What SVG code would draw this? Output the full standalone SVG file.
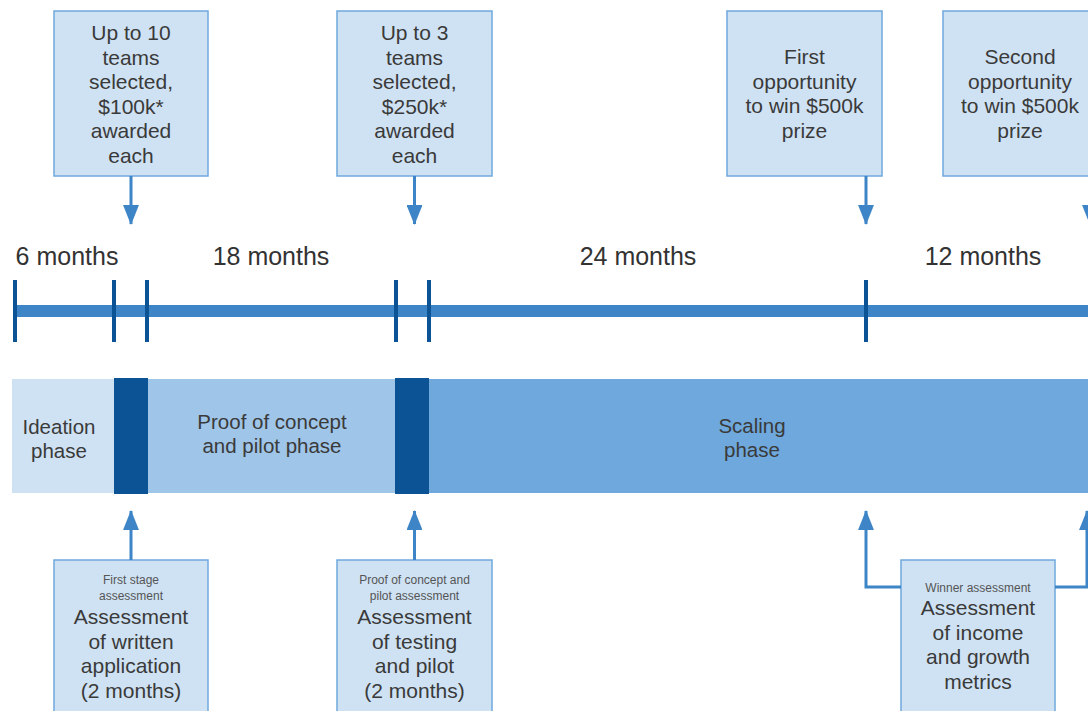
<svg xmlns="http://www.w3.org/2000/svg" width="1088" height="711" viewBox="0 0 1088 711">
<style>
.box{fill:#cfe2f3;stroke:#6fa8dc;stroke-width:1.5}
.t{font-family:"Liberation Sans",Arial,sans-serif;font-size:21px;fill:#3a3a3a;text-anchor:middle}
.m{font-family:"Liberation Sans",Arial,sans-serif;font-size:25px;fill:#333;text-anchor:middle}
.p{font-family:"Liberation Sans",Arial,sans-serif;font-size:20.5px;fill:#3a3a3a;text-anchor:middle}
.s{font-family:"Liberation Sans",Arial,sans-serif;font-size:12px;fill:#555;text-anchor:middle}
.ln{fill:none;stroke:#3d85c6;stroke-width:3}
.tick{fill:#0b5394}
</style>
<defs>
<marker id="ah" viewBox="0 0 20 16" refX="19" refY="8" markerWidth="6.7" markerHeight="5.3" orient="auto" markerUnits="strokeWidth">
<path d="M0,0 L20,8 L0,16 z" fill="#3d85c6"/>
</marker>
</defs>
<rect width="1088" height="711" fill="#ffffff"/>

<g id="timeline">
<rect x="13" y="305" width="1075" height="12" fill="#3d85c6"/>
<rect class="tick" x="13" y="280" width="4" height="62"/>
<rect class="tick" x="112" y="280" width="4" height="62"/>
<rect class="tick" x="145" y="280" width="4" height="62"/>
<rect class="tick" x="394" y="280" width="4" height="62"/>
<rect class="tick" x="427" y="280" width="4" height="62"/>
<rect class="tick" x="864" y="280" width="4" height="62"/>
</g>

<g id="durations">
<text class="m" x="67" y="265">6 months</text>
<text class="m" x="271" y="265">18 months</text>
<text class="m" x="638" y="265">24 months</text>
<text class="m" x="983" y="265">12 months</text>
</g>

<g id="phase-ideation">
<rect x="12" y="379" width="102" height="114" fill="#cfe2f3"/>
<text class="p" x="59" y="434">Ideation</text>
<text class="p" x="59" y="458">phase</text>
</g>
<g id="gate-1"><rect x="114" y="378" width="34" height="116" fill="#0b5394"/></g>
<g id="phase-proof">
<rect x="148" y="379" width="247" height="114" fill="#9fc5e8"/>
<text class="p" x="272" y="429">Proof of concept</text>
<text class="p" x="272" y="453">and pilot phase</text>
</g>
<g id="gate-2"><rect x="395" y="378" width="34" height="116" fill="#0b5394"/></g>
<g id="phase-scaling">
<rect x="429" y="379" width="659" height="114" fill="#6fa8dc"/>
<text class="p" x="752" y="433">Scaling</text>
<text class="p" x="752" y="457">phase</text>
</g>

<g id="box-teams-10">
<rect class="box" x="54" y="11" width="154" height="165"/>
<text class="t" x="131" y="40">Up to 10</text>
<text class="t" x="131" y="64.5">teams</text>
<text class="t" x="131" y="89">selected,</text>
<text class="t" x="131" y="113.5">$100k*</text>
<text class="t" x="131" y="138">awarded</text>
<text class="t" x="131" y="162.5">each</text>
</g>
<g id="box-teams-3">
<rect class="box" x="337" y="11" width="155" height="165"/>
<text class="t" x="414.5" y="40">Up to 3</text>
<text class="t" x="414.5" y="64.5">teams</text>
<text class="t" x="414.5" y="89">selected,</text>
<text class="t" x="414.5" y="113.5">$250k*</text>
<text class="t" x="414.5" y="138">awarded</text>
<text class="t" x="414.5" y="162.5">each</text>
</g>
<g id="box-first-opportunity">
<rect class="box" x="727" y="11" width="155" height="165"/>
<text class="t" x="804.5" y="64">First</text>
<text class="t" x="804.5" y="88.5">opportunity</text>
<text class="t" x="804.5" y="113">to win $500k</text>
<text class="t" x="804.5" y="137.5">prize</text>
</g>
<g id="box-second-opportunity">
<rect class="box" x="943" y="11" width="155" height="165"/>
<text class="t" x="1020" y="64">Second</text>
<text class="t" x="1020" y="88.5">opportunity</text>
<text class="t" x="1020" y="113">to win $500k</text>
<text class="t" x="1020" y="137.5">prize</text>
</g>

<g id="box-first-stage">
<rect class="box" x="54" y="560" width="154" height="160"/>
<text class="s" x="131" y="584">First stage</text>
<text class="s" x="131" y="600">assessment</text>
<text class="t" x="131" y="624">Assessment</text>
<text class="t" x="131" y="648.5">of written</text>
<text class="t" x="131" y="673">application</text>
<text class="t" x="131" y="697.5">(2 months)</text>
</g>
<g id="box-poc-assessment">
<rect class="box" x="337" y="560" width="155" height="160"/>
<text class="s" x="414.5" y="584">Proof of concept and</text>
<text class="s" x="414.5" y="600">pilot  assessment</text>
<text class="t" x="414.5" y="624">Assessment</text>
<text class="t" x="414.5" y="648.5">of testing</text>
<text class="t" x="414.5" y="673">and pilot</text>
<text class="t" x="414.5" y="697.5">(2 months)</text>
</g>
<g id="box-winner">
<rect class="box" x="901" y="560" width="154" height="160"/>
<text class="s" x="978" y="592">Winner assessment</text>
<text class="t" x="978" y="615">Assessment</text>
<text class="t" x="978" y="639.5">of income</text>
<text class="t" x="978" y="664">and growth</text>
<text class="t" x="978" y="688.5">metrics</text>
</g>

<g id="connectors">
<path class="ln" d="M131,176 V224" marker-end="url(#ah)"/>
<path class="ln" d="M414.5,176 V224" marker-end="url(#ah)"/>
<path class="ln" d="M866,176 V224" marker-end="url(#ah)"/>
<path class="ln" d="M1090,176 V224" marker-end="url(#ah)"/>
<path class="ln" d="M131,560 V511" marker-end="url(#ah)"/>
<path class="ln" d="M414.5,560 V511" marker-end="url(#ah)"/>
<path class="ln" d="M901,587 H866 V511" marker-end="url(#ah)"/>
<path class="ln" d="M1055,587 H1087 V511" marker-end="url(#ah)"/>
</g>
</svg>
